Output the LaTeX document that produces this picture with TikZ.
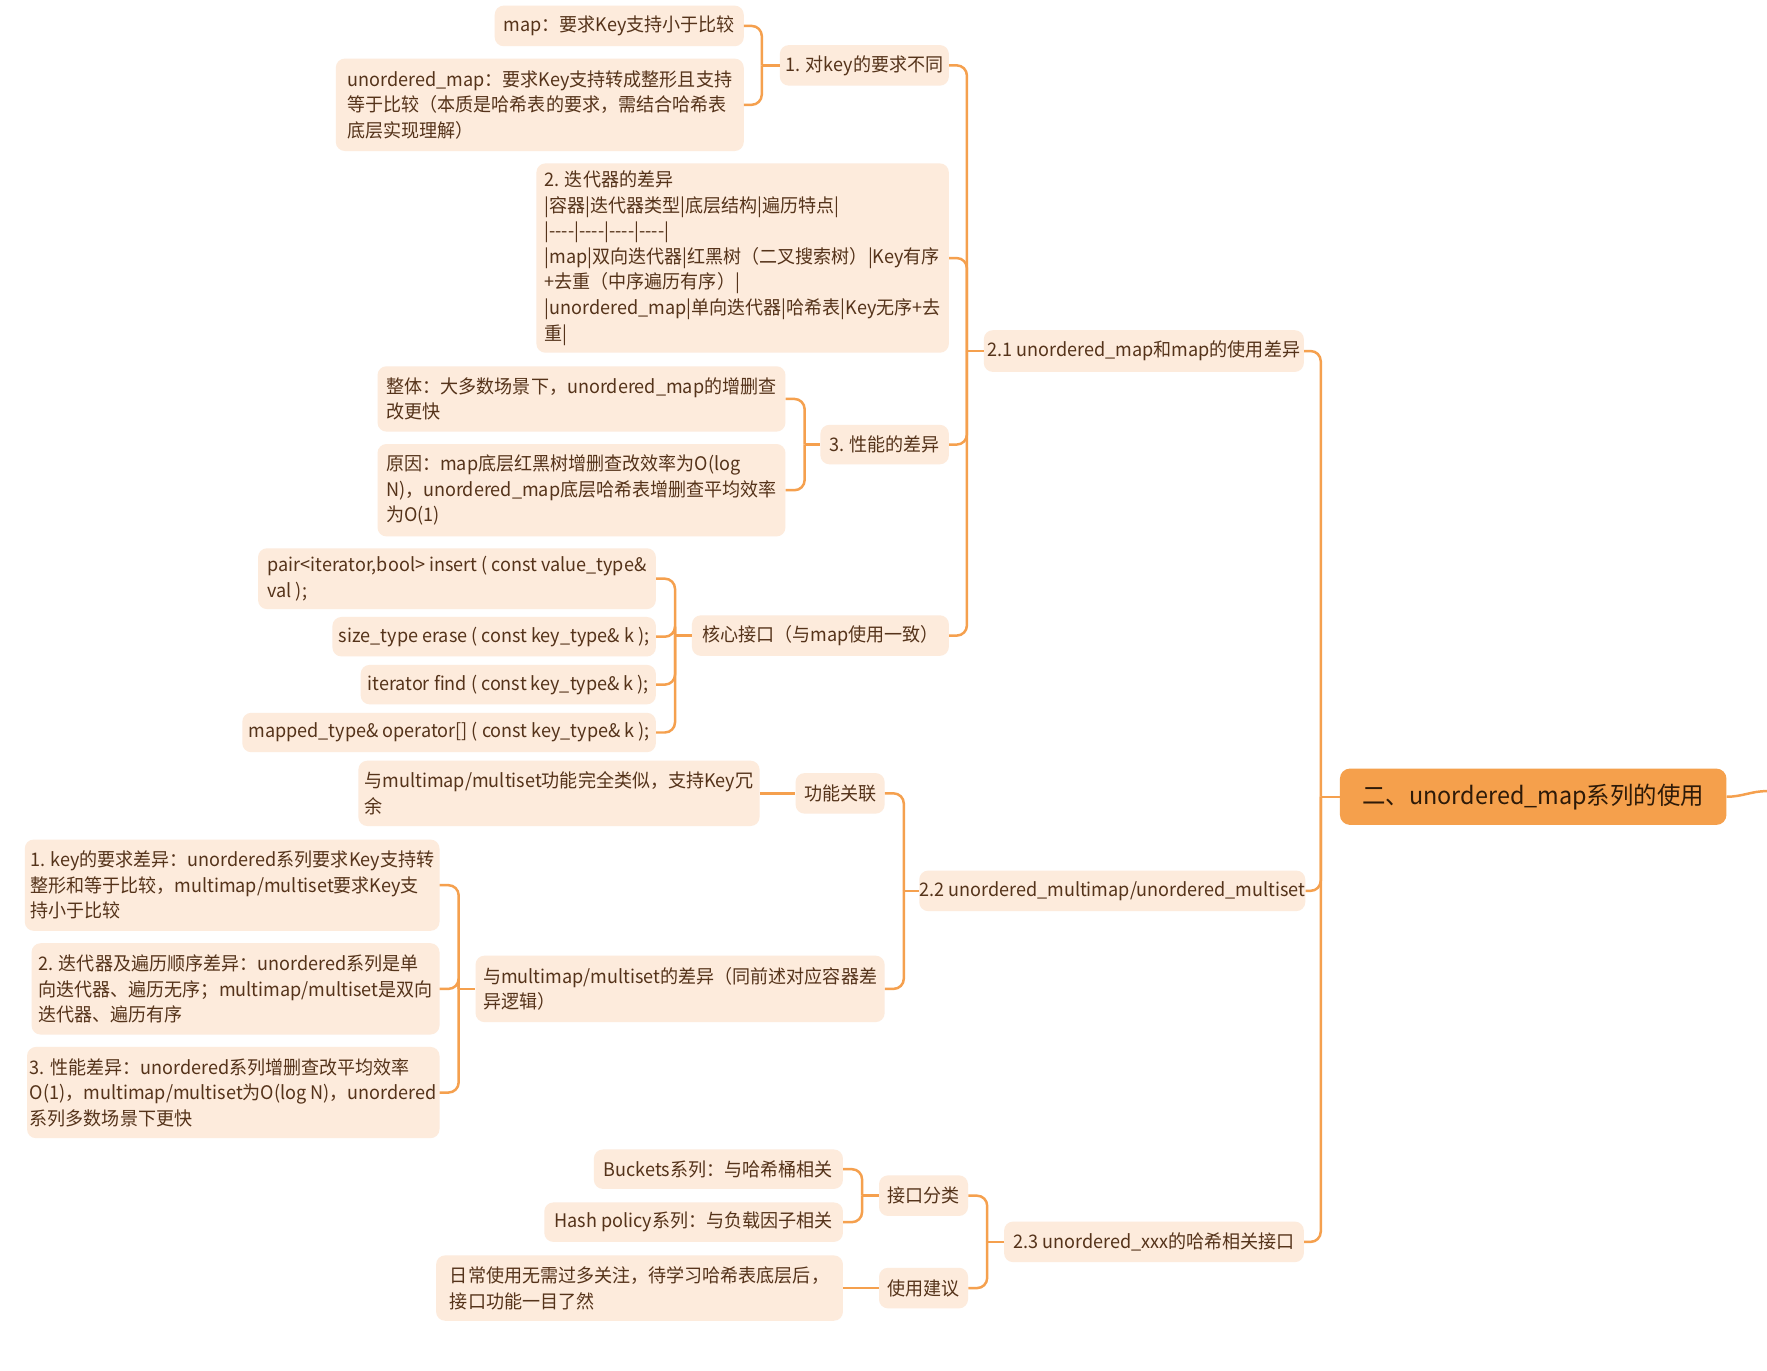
\documentclass[tikz,border=0pt]{standalone}
\usepackage{fontspec}
\setmainfont{Noto Sans CJK SC}[FakeStretch=0.965]
\definecolor{leafC}{HTML}{FDEBDC}
\definecolor{lineC}{HTML}{F5A04E}
\definecolor{rootC}{HTML}{F5A04C}
\definecolor{txtC}{HTML}{55331A}
\definecolor{rootT}{HTML}{2E1A08}
\newcommand\hy{\mbox{-}}
\begin{document}
\begin{tikzpicture}[x=1pt,y=-1pt,
  box/.style={rectangle, rounded corners=8pt, fill=leafC, text=txtC, inner sep=0pt,
    font=\fontsize{16.6}{22.7}\selectfont, align=center},
  ml/.style={align=left},
  sz/.style 2 args={minimum width=#1pt, minimum height=#2pt},
  rootbox/.style={rectangle, rounded corners=9pt, fill=rootC, text=rootT, inner sep=0pt,
    font=\fontsize{21.5}{26}\selectfont},
  conn/.style={draw=lineC, line width=2.2pt, rounded corners=9pt}]
\useasboundingbox (0,0) rectangle (1568,1216);
\fill[white] (0,0) rectangle (1568,1216);

% root and level 1
\node[rootbox, sz={343}{50}] (root) at (1360.5,707) {二、unordered\_map系列的使用};
\node[box, sz={284}{37}] (n21) at (1015,311.5) {2.1 unordered\_map和map的使用差异};
\node[box, sz={340}{36}] (n22) at (987,790.5) {2.2 unordered\_multimap/unordered\_multiset};
\node[box, sz={266}{36}] (n23) at (1024,1102) {2.3 unordered\_xxx的哈希相关接口};

% group 2.1
\node[box, sz={150}{36}] (k1) at (767,58) {1. 对key的要求不同};
\node[box, ml, sz={366}{168}] (k2) at (659,229) {2. 迭代器的差异\\|容器|迭代器类型|底层结构|遍历特点|\\|\hy\hy\hy\hy|\hy\hy\hy\hy|\hy\hy\hy\hy|\hy\hy\hy\hy|\\|map|双向迭代器|红黑树（二叉搜索树）|Key有序\\+去重（中序遍历有序）|\\|unordered\_map|单向迭代器|哈希表|Key无序+去\\重|};
\node[box, sz={114}{35}] (k3) at (785,394.5) {3. 性能的差异};
\node[box, sz={228}{36}] (k4) at (728,564) {核心接口（与map使用一致）};

\node[box, sz={221}{36}] (a1) at (549.5,23) {map：要求Key支持小于比较};
\node[box, ml, sz={362}{82}] (a2) at (479,93) {unordered\_map：要求Key支持转成整形且支持\\等于比较（本质是哈希表的要求，需结合哈希表\\底层实现理解）};

\node[box, ml, sz={362}{58}] (b1) at (516,354) {整体：大多数场景下，unordered\_map的增删查\\改更快};
\node[box, ml, sz={362}{82}] (b2) at (516,435) {原因：map底层红黑树增删查改效率为O(log\\N)，unordered\_map底层哈希表增删查平均效率\\为O(1)};

\node[box, ml, sz={353}{54}] (c1) at (405.5,513.5) {pair<iterator,bool> insert ( const value\_type\&\\val );};
\node[box, sz={287}{35}] (c2) at (438.5,565) {size\_type erase ( const key\_type\& k );};
\node[box, sz={262}{35}] (c3) at (451,607.5) {iterator find ( const key\_type\& k );};
\node[box, sz={367}{35}] (c4) at (398.5,650) {mapped\_type\& operator[] ( const key\_type\& k );};

% group 2.2
\node[box, sz={79}{36}] (d1) at (745.5,704) {功能关联};
\node[box, ml, sz={363}{59}] (d2) at (603.5,877.5) {与multimap/multiset的差异（同前述对应容器差\\异逻辑）};
\node[box, ml, sz={356}{58}] (e1) at (496,704) {与multimap/multiset功能完全类似，支持Key冗\\余};
\node[box, ml, sz={368}{81}] (f1) at (206,785.5) {1. key的要求差异：unordered系列要求Key支持转\\整形和等于比较，multimap/multiset要求Key支\\持小于比较};
\node[box, ml, sz={362}{81}] (f2) at (209,877.5) {2. 迭代器及遍历顺序差异：unordered系列是单\\向迭代器、遍历无序；multimap/multiset是双向\\迭代器、遍历有序};
\node[box, ml, sz={366}{81}] (f3) at (207,969.5) {3. 性能差异：unordered系列增删查改平均效率\\O(1)，multimap/multiset为O(log N)，unordered\\系列多数场景下更快};

% group 2.3
\node[box, sz={79}{36}] (g1) at (819.5,1061) {接口分类};
\node[box, sz={79}{36}] (g2) at (819.5,1143) {使用建议};
\node[box, sz={221}{35}] (h1) at (637.5,1037.5) {Buckets系列：与哈希桶相关};
\node[box, sz={265}{35}] (h2) at (615.5,1084.5) {Hash policy系列：与负载因子相关};
\node[box, ml, sz={361}{58}] (h3) at (567.5,1143) {日常使用无需过多关注，待学习哈希表底层后，\\接口功能一目了然};

% junctions
\coordinate (jr) at (1172,707);
\coordinate (j21) at (858,311.5);
\coordinate (j22) at (802,790.5);
\coordinate (j23) at (876,1102);
\coordinate (jk1) at (676,58);
\coordinate (jk3) at (714,394.5);
\coordinate (jk4) at (599,564);
\coordinate (jd2) at (407,877.5);
\coordinate (jg1) at (765,1061);
\coordinate (off) at (1568,702);

% connectors
\draw[conn] (root.east) to[out=0,in=180] (off);
\draw[conn] (jr) -- (root.west);
\foreach \c in {n21,n22,n23} \draw[conn] (\c.east) -| (jr);

\draw[conn] (j21) -- (n21.west);
\foreach \c in {k1,k2,k3,k4} \draw[conn] (\c.east) -| (j21);

\draw[conn] (jk1) -- (k1.west);
\foreach \c in {a1,a2} \draw[conn] (\c.east) -| (jk1);

\draw[conn] (jk3) -- (k3.west);
\foreach \c in {b1,b2} \draw[conn] (\c.east) -| (jk3);

\draw[conn] (jk4) -- (k4.west);
\foreach \c in {c1,c2,c3,c4} \draw[conn] (\c.east) -| (jk4);

\draw[conn] (j22) -- (n22.west);
\foreach \c in {d1,d2} \draw[conn] (\c.east) -| (j22);
\draw[conn] (e1.east) -- (d1.west);

\draw[conn] (jd2) -- (d2.west);
\foreach \c in {f1,f2,f3} \draw[conn] (\c.east) -| (jd2);

\draw[conn] (j23) -- (n23.west);
\foreach \c in {g1,g2} \draw[conn] (\c.east) -| (j23);

\draw[conn] (jg1) -- (g1.west);
\foreach \c in {h1,h2} \draw[conn] (\c.east) -| (jg1);
\draw[conn] (h3.east) -- (g2.west);
\end{tikzpicture}
\end{document}
